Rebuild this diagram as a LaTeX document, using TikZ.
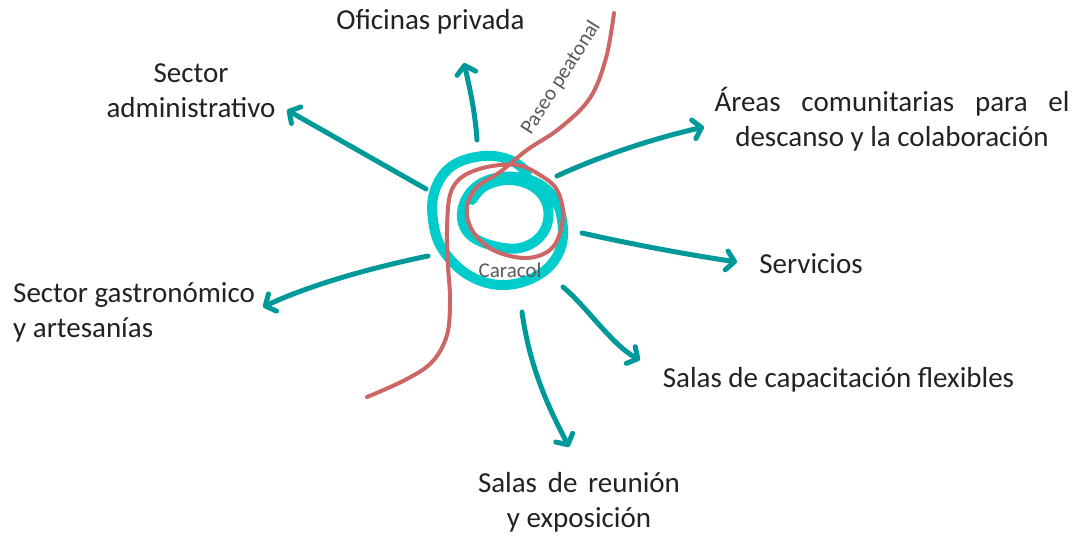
\documentclass[tikz,border=0pt]{standalone}
\usepackage{fontspec}
\setmainfont{Carlito}
\usetikzlibrary{arrows.meta}
\definecolor{tealA}{RGB}{0,153,153}
\definecolor{cyanA}{RGB}{0,204,204}
\definecolor{redA}{RGB}{205,102,102}
\definecolor{txtA}{RGB}{34,34,34}
\definecolor{greyA}{RGB}{89,89,89}
\begin{document}
\begin{tikzpicture}[x=1pt,y=-1pt,
  lbl/.style={font=\fontsize{29}{35}\selectfont, text=txtA, inner sep=0pt, anchor=base},
  smalllbl/.style={font=\fontsize{21}{25}\selectfont, text=greyA, inner sep=0pt},
  arr/.style={draw=tealA, line width=5pt, line cap=round,
    -{Straight Barb[length=8pt,width=19pt,line width=5pt,round]}},
  spiral/.style={draw=cyanA, line width=10pt, line cap=round, line join=round},
  walk/.style={draw=redA, line width=4pt, line cap=round, line join=round}]
\useasboundingbox (0,0) rectangle (1078,535);

% labels (multi-line nodes: base anchor = last line baseline)
\node[lbl] (ofi) at (430.5,30) {Oficinas privada};
\node[lbl, align=center] (adm) at (191,117) {Sector\\administrativo};
\node[lbl, align=center] (areas) at (892,146) {\makebox[355pt][s]{Áreas comunitarias para el}\\descanso y la colaboración};
\node[lbl] (serv) at (811,273) {Servicios};
\node[lbl, align=left, anchor=base west] (gas) at (13,337) {Sector gastronómico\\y artesanías};
\node[lbl] (cap) at (838.5,387) {Salas de capacitación flexibles};
\node[lbl, align=center] (reu) at (579,527) {\makebox[202pt][s]{Salas de reunión}\\y exposición};

% spiral (caracol)
\draw[spiral] plot[smooth, tension=0.65] coordinates {
 (527,172) (510,160) (483,156) (452,166) (435,190) (433,220) (443,250)
 (470,276) (505,285) (540,274) (560,250) (562,220) (552,195) (530,180)
 (502,177) (477,186) (463,207) (466,230) (487,244) (520,248) (543,233)
 (548,208) (535,188) (510,180) (485,186) (472,200)};

% paseo peatonal
\draw[walk] plot[smooth, tension=0.6] coordinates {
 (614,13) (606,58) (590,98) (560,128) (527,150) (500,172) (477,187)
 (467,207) (472,230) (493,250) (527,258) (553,247) (563,217) (557,190)
 (540,175) (517,165) (487,167) (462,177) (450,195) (447,230) (448,265)
 (450,300) (447,335) (432,362) (405,380) (367,397)};

\node[smalllbl] (caracol) at (510,270) {Caracol};
\node[smalllbl, rotate=57.5] (paseo) at (561,78) {Paseo peatonal};

% arrow ends
\coordinate (s1) at (477,140); \coordinate (t1) at (464,63);
\coordinate (s2) at (426,189); \coordinate (t2) at (287,110);
\coordinate (s3) at (557,176); \coordinate (t3) at (704,127);
\coordinate (s4) at (582,233); \coordinate (t4) at (737,262);
\coordinate (s5) at (563,287); \coordinate (t5) at (640,360);
\coordinate (s6) at (522,312); \coordinate (t6) at (569,447);
\coordinate (s7) at (428,256); \coordinate (t7) at (263,307);

\draw[arr] (s1) .. controls (475,110) and (469,85) .. (t1);
\draw[arr] (s2) -- (t2);
\draw[arr] (s3) .. controls (600,156) and (655,138) .. (t3);
\draw[arr] (s4) .. controls (630,244) and (690,255) .. (t4);
\draw[arr] (s5) .. controls (587,307) and (612,345) .. (t5);
\draw[arr] (s6) .. controls (530,370) and (550,410) .. (t6);
\draw[arr] (s7) .. controls (370,268) and (310,285) .. (t7);
\end{tikzpicture}
\end{document}
